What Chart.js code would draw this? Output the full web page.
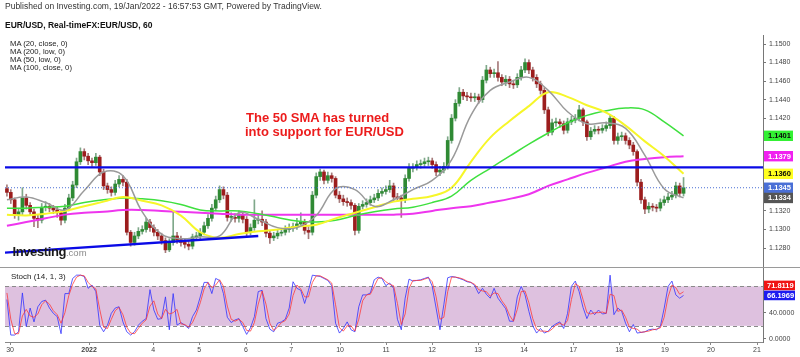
<!DOCTYPE html>
<html><head><meta charset="utf-8">
<script src="https://cdn.jsdelivr.net/npm/chart.js@4"></script>
<style>
body{margin:0;background:#fff;width:800px;height:357px;overflow:hidden;position:relative;font-family:"Liberation Sans",Arial,sans-serif;}
canvas{position:absolute;left:0;}
.t{position:absolute;white-space:nowrap;color:#333;line-height:1;z-index:5;}
</style></head><body>
<canvas id="main" width="800" height="267" style="top:0"></canvas>
<canvas id="stoch" width="800" height="90" style="top:267px"></canvas>
<div class="t" style="left:5px;top:2px;font-size:8.5px">Published on Investing.com, 19/Jan/2022 - 16:57:53 GMT, Powered by TradingView.</div>
<div class="t" style="left:5px;top:20.5px;font-size:8.5px;font-weight:bold;color:#111">EUR/USD, Real-timeFX:EUR/USD, 60</div>
<div class="t" style="left:10px;top:39.5px;font-size:7.7px;color:#222">MA (20, close, 0)</div>
<div class="t" style="left:10px;top:47.9px;font-size:7.7px;color:#222">MA (200, low, 0)</div>
<div class="t" style="left:10px;top:55.5px;font-size:7.7px;color:#222">MA (50, low, 0)</div>
<div class="t" style="left:10px;top:63.9px;font-size:7.7px;color:#222">MA (100, close, 0)</div>
<div class="t" style="left:246px;top:110.5px;font-size:13px;font-weight:bold;color:#ec1c1c">The 50 SMA has turned</div>
<div class="t" style="left:245px;top:124.5px;font-size:13px;font-weight:bold;color:#ec1c1c">into support for EUR/USD</div>
<div class="t" style="left:12.5px;top:245px;font-size:13px;font-weight:bold;color:#1a1a1a;letter-spacing:-0.4px">Investing<span style="font-size:9.5px;font-weight:normal;color:#8a8a8a;letter-spacing:0">.com</span></div>
<div class="t" style="left:11px;top:272.7px;font-size:8px;color:#222">Stoch (14, 1, 3)</div>
<script>
// ---- data (2-hour candles, EUR/USD) ----
const opens=[1.1344,1.1340,1.1332,1.1316,1.1319,1.1334,1.1326,1.1319,1.1312,1.1310,
1.1324,1.1325,1.1323,1.1321,1.1318,1.1310,1.1323,1.1334,1.1348,1.1373,
1.1384,1.1379,1.1374,1.1372,1.1378,1.1362,1.1347,1.1343,1.1340,1.1349,
1.1354,1.1351,1.1297,1.1286,1.1293,1.1298,1.1300,1.1308,1.1302,1.1297,
1.1293,1.1288,1.1278,1.1286,1.1293,1.1289,1.1286,1.1284,1.1282,1.1292,
1.1293,1.1297,1.1304,1.1312,1.1323,1.1332,1.1343,1.1337,1.1313,1.1313,
1.1312,1.1315,1.1311,1.1297,1.1302,1.1310,1.1311,1.1308,1.1296,1.1291,
1.1293,1.1296,1.1297,1.1300,1.1302,1.1303,1.1306,1.1308,1.1299,1.1297,
1.1337,1.1357,1.1362,1.1353,1.1358,1.1355,1.1337,1.1333,1.1330,1.1329,
1.1326,1.1299,1.1325,1.1327,1.1329,1.1332,1.1334,1.1339,1.1341,1.1343,
1.1347,1.1335,1.1334,1.1332,1.1355,1.1366,1.1367,1.1370,1.1371,1.1373,
1.1374,1.1370,1.1362,1.1364,1.1368,1.1396,1.1420,1.1436,1.1448,1.1444,
1.1443,1.1442,1.1443,1.1440,1.1461,1.1472,1.1468,1.1469,1.1464,1.1459,
1.1462,1.1457,1.1456,1.1464,1.1472,1.1480,1.1472,1.1464,1.1457,1.1450,
1.1429,1.1405,1.1415,1.1416,1.1414,1.1407,1.1416,1.1418,1.1420,1.1429,
1.1416,1.1400,1.1406,1.1408,1.1407,1.1409,1.1412,1.1420,1.1396,1.1400,
1.1401,1.1396,1.1391,1.1384,1.1351,1.1332,1.1322,1.1325,1.1324,1.1323,
1.1329,1.1332,1.1335,1.1337,1.1347,1.1339];
const highs=[1.1348,1.1343,1.1334,1.1323,1.1345,1.1338,1.1329,1.1322,1.1316,1.1328,
1.1330,1.1328,1.1326,1.1324,1.1320,1.1327,1.1338,1.1352,1.1377,1.1388,
1.1387,1.1382,1.1377,1.1382,1.1380,1.1365,1.1350,1.1346,1.1353,1.1358,
1.1358,1.1354,1.1299,1.1297,1.1302,1.1304,1.1312,1.1311,1.1305,1.1300,
1.1296,1.1291,1.1290,1.1320,1.1297,1.1293,1.1290,1.1288,1.1295,1.1297,
1.1301,1.1308,1.1316,1.1327,1.1336,1.1347,1.1346,1.1340,1.1318,1.1317,
1.1320,1.1318,1.1314,1.1306,1.1332,1.1316,1.1320,1.1311,1.1299,1.1297,
1.1300,1.1301,1.1304,1.1306,1.1307,1.1312,1.1318,1.1311,1.1303,1.1341,
1.1361,1.1365,1.1364,1.1362,1.1361,1.1357,1.1341,1.1337,1.1334,1.1332,
1.1328,1.1328,1.1331,1.1333,1.1336,1.1338,1.1343,1.1345,1.1347,1.1353,
1.1350,1.1339,1.1337,1.1359,1.1371,1.1371,1.1374,1.1375,1.1377,1.1378,
1.1377,1.1373,1.1368,1.1372,1.1400,1.1424,1.1440,1.1453,1.1451,1.1448,
1.1447,1.1447,1.1446,1.1465,1.1477,1.1475,1.1473,1.1481,1.1467,1.1466,
1.1465,1.1461,1.1468,1.1476,1.1484,1.1483,1.1475,1.1467,1.1460,1.1453,
1.1432,1.1419,1.1420,1.1419,1.1417,1.1420,1.1422,1.1424,1.1434,1.1431,
1.1418,1.1410,1.1412,1.1411,1.1413,1.1416,1.1424,1.1422,1.1404,1.1405,
1.1404,1.1399,1.1394,1.1386,1.1354,1.1335,1.1329,1.1328,1.1327,1.1333,
1.1336,1.1339,1.1341,1.1351,1.1350,1.1356];
const lows=[1.1336,1.1328,1.1312,1.1310,1.1316,1.1322,1.1315,1.1303,1.1302,1.1307,
1.1320,1.1319,1.1317,1.1313,1.1305,1.1307,1.1320,1.1331,1.1345,1.1370,
1.1375,1.1370,1.1368,1.1369,1.1358,1.1343,1.1339,1.1336,1.1337,1.1346,
1.1347,1.1294,1.1282,1.1283,1.1290,1.1295,1.1297,1.1298,1.1293,1.1289,
1.1284,1.1275,1.1276,1.1283,1.1285,1.1282,1.1280,1.1278,1.1279,1.1288,
1.1290,1.1294,1.1301,1.1309,1.1320,1.1329,1.1333,1.1309,1.1309,1.1308,
1.1308,1.1307,1.1293,1.1294,1.1299,1.1306,1.1304,1.1292,1.1285,1.1288,
1.1290,1.1293,1.1294,1.1297,1.1298,1.1300,1.1303,1.1295,1.1290,1.1294,
1.1334,1.1353,1.1349,1.1350,1.1351,1.1334,1.1329,1.1326,1.1325,1.1322,
1.1294,1.1296,1.1322,1.1324,1.1326,1.1329,1.1331,1.1336,1.1338,1.1340,
1.1331,1.1330,1.1313,1.1329,1.1352,1.1362,1.1364,1.1366,1.1368,1.1369,
1.1366,1.1358,1.1358,1.1361,1.1365,1.1393,1.1417,1.1433,1.1440,1.1439,
1.1438,1.1438,1.1436,1.1437,1.1458,1.1464,1.1464,1.1460,1.1455,1.1455,
1.1453,1.1452,1.1453,1.1461,1.1469,1.1468,1.1460,1.1453,1.1446,1.1425,
1.1401,1.1402,1.1411,1.1410,1.1403,1.1404,1.1413,1.1415,1.1417,1.1412,
1.1396,1.1397,1.1403,1.1403,1.1404,1.1406,1.1409,1.1392,1.1392,1.1396,
1.1392,1.1387,1.1380,1.1347,1.1328,1.1317,1.1318,1.1320,1.1319,1.1320,
1.1326,1.1329,1.1332,1.1334,1.1335,1.1336];
const closes=[1.1340,1.1332,1.1316,1.1319,1.1334,1.1326,1.1319,1.1312,1.1310,1.1324,
1.1325,1.1323,1.1321,1.1318,1.1310,1.1323,1.1334,1.1348,1.1373,1.1384,
1.1379,1.1374,1.1372,1.1378,1.1362,1.1347,1.1343,1.1340,1.1349,1.1354,
1.1351,1.1297,1.1286,1.1293,1.1298,1.1300,1.1308,1.1302,1.1297,1.1293,
1.1288,1.1278,1.1286,1.1293,1.1289,1.1286,1.1284,1.1282,1.1292,1.1293,
1.1297,1.1304,1.1312,1.1323,1.1332,1.1343,1.1337,1.1313,1.1313,1.1312,
1.1315,1.1311,1.1297,1.1302,1.1310,1.1311,1.1308,1.1296,1.1291,1.1293,
1.1296,1.1297,1.1300,1.1302,1.1303,1.1306,1.1308,1.1299,1.1297,1.1337,
1.1357,1.1362,1.1353,1.1358,1.1355,1.1337,1.1333,1.1330,1.1329,1.1326,
1.1299,1.1325,1.1327,1.1329,1.1332,1.1334,1.1339,1.1341,1.1343,1.1347,
1.1335,1.1334,1.1332,1.1355,1.1366,1.1367,1.1370,1.1371,1.1373,1.1374,
1.1370,1.1362,1.1364,1.1368,1.1396,1.1420,1.1436,1.1448,1.1444,1.1443,
1.1442,1.1443,1.1440,1.1461,1.1472,1.1468,1.1469,1.1464,1.1459,1.1462,
1.1457,1.1456,1.1464,1.1472,1.1480,1.1472,1.1464,1.1457,1.1450,1.1429,
1.1405,1.1415,1.1416,1.1414,1.1407,1.1416,1.1418,1.1420,1.1429,1.1416,
1.1400,1.1406,1.1408,1.1407,1.1409,1.1412,1.1420,1.1396,1.1400,1.1401,
1.1396,1.1391,1.1384,1.1351,1.1332,1.1322,1.1325,1.1324,1.1323,1.1329,
1.1332,1.1335,1.1337,1.1347,1.1339,1.1345];

// moving averages sampled every 10 hours
const ma20=[1.1332,1.1335,1.1329,1.1321,1.1342,1.1362,1.1358,1.1319,1.1295,1.1290,1.1292,1.1293,1.1318,1.1311,1.1302,1.1302,1.1315,1.1344,1.1343,1.1325,1.1332,1.1343,1.1353,1.1375,1.1423,1.1450,1.1459,1.1464,1.1450,1.1427,1.1414,1.1415,1.1409,1.1380,1.1344,1.1334];
const ma50=[1.1316,1.1315,1.1317,1.1320,1.1325,1.1330,1.1335,1.1331,1.1326,1.1315,1.1297,1.1291,1.1295,1.1298,1.1300,1.1303,1.1305,1.1312,1.1318,1.1324,1.1330,1.1333,1.1336,1.1345,1.1373,1.1399,1.1417,1.1433,1.1448,1.1443,1.1434,1.1426,1.1412,1.1395,1.1379,1.1360];
const ma100=[1.1323,1.1323,1.1324,1.1325,1.1329,1.1332,1.1334,1.1333,1.1331,1.1327,1.1321,1.1320,1.1320,1.1317,1.1313,1.1309,1.1308,1.1310,1.1315,1.1319,1.1322,1.1324,1.1329,1.1336,1.1353,1.1366,1.1379,1.1392,1.1404,1.1415,1.1423,1.1428,1.1431,1.1429,1.1416,1.1401];
const ma200=[1.1304,1.1308,1.1312,1.1316,1.1318,1.1319,1.1321,1.1321,1.1320,1.1319,1.1318,1.1317,1.1316,1.1316,1.1316,1.1316,1.1316,1.1316,1.1316,1.1316,1.1316,1.1317,1.1320,1.1323,1.1325,1.1329,1.1333,1.1338,1.1347,1.1354,1.1361,1.1367,1.1373,1.1376,1.1378,1.1379];

// stochastic (14,1,3)
const stochK=[60,6,6,11,70,19,47,26,49,57,
59,47,39,34,8,69,69,92,97,97,
95,77,82,72,21,11,21,39,47,49,
26,11,6,11,21,27,31,75,44,30,
31,64,14,69,21,25,21,16,34,44,
64,86,86,69,92,89,69,33,25,29,
31,19,7,17,34,72,74,31,15,11,
24,26,30,47,87,77,74,54,74,97,
96,95,92,89,81,24,9,16,26,14,
11,49,67,67,70,90,94,92,81,85,
77,30,14,62,91,88,89,90,92,94,
80,47,14,52,93,95,94,92,90,87,
86,81,69,77,68,62,77,62,54,46,
27,27,64,80,67,42,20,9,16,9,
12,19,23,26,16,39,80,88,72,48,
31,44,37,44,38,39,97,37,47,42,
24,11,22,9,10,11,14,15,14,19,
47,80,88,67,62,66.1969];
const stochD=[70,30,8,8,35,45,35,33,38,52,
58,53,43,37,24,40,66,83,94,97,
96,86,80,76,45,18,16,30,43,48,
37,18,9,8,16,24,29,50,58,38,
31,45,38,40,45,23,22,18,25,38,
55,76,86,78,82,90,80,50,30,27,
30,25,13,12,25,53,73,53,24,13,
18,25,28,38,66,82,76,64,64,86,
96,96,93,90,85,52,17,12,20,20,
12,30,58,67,68,80,92,93,87,83,
81,54,22,38,77,89,89,89,91,93,
87,64,30,33,72,94,94,93,91,88,
86,83,75,73,72,65,70,69,58,50,
36,27,45,72,73,55,31,15,12,12,
11,15,21,24,21,28,60,84,80,60,
40,38,40,40,41,39,68,66,42,44,
33,18,16,15,10,11,12,14,15,17,
33,64,82,78,68,71.8119];

// levels and axes
const resistance=1.1367;
const trendFrom=[0,1.1275];
const trendTo=[131,1.1293];
const priceTicks=[1.1280,1.1300,1.1320,1.1340,1.1360,1.1380,1.1400,1.1420,1.1440,1.1460,1.1480,1.1500];
const stochTicks=[0,40];
const stochLevels=[20,80];
const dayLabels=['30','2022','4','5','6','7','10','11','12','13','14','17','18','19','20','21'];
const dayHours=[2.6,43.5,76.6,100.4,124.7,148,173.3,197.1,220.9,244.7,268.5,294,317.7,341.4,365.2,389];

// ---- chart setup ----
Chart.defaults.font.family='"Liberation Sans", Arial, sans-serif';
const X_MAX=392.1;
const candleHour=closes.map((_,i)=>i*2+1);
const maHour=ma20.map((_,k)=>k*10+1);
const P_MAX=1.150971, P_MIN=1.126060;
const S_MAX=109.4, S_MIN=-4.56;
const lastClose=closes[closes.length-1];
const bodyColors=closes.map((c,i)=>c>=opens[i]?'#2f8a34':'#9c1d1d');
const wickColors=closes.map((c,i)=>c>=opens[i]?'#7fa88a':'#a57a7a');
const ser=(arr,xs)=>arr.map((v,i)=>({x:xs[i],y:v}));
const maLine=(label,arr,color,w)=>({type:'line',label,data:ser(arr,maHour),borderColor:color,borderWidth:w,pointRadius:0,tension:0.4,order:4});

const priceTagPlugin={id:'priceTags',afterDraw(chart){
  const ctx=chart.ctx, ys=chart.scales.y, x0=chart.chartArea.right+1;
  const tags=[
    {v:ma100[ma100.length-1],bg:'#33f033',fg:'#0a0a0a'},
    {v:ma200[ma200.length-1],bg:'#f020f0',fg:'#ffffff'},
    {v:ma50[ma50.length-1],bg:'#ffff20',fg:'#0a0a0a'},
    {v:lastClose,bg:'#4a6fd6',fg:'#ffffff'},
    {v:ma20[ma20.length-1],bg:'#555555',fg:'#ffffff'}];
  ctx.save();
  ctx.font='bold 7.5px "Liberation Sans", Arial';
  ctx.textBaseline='middle';
  tags.forEach(t=>{const py=ys.getPixelForValue(t.v);
    ctx.fillStyle=t.bg; ctx.fillRect(x0,py-5.2,29,10.4);
    ctx.fillStyle=t.fg; ctx.fillText(t.v.toFixed(4),x0+4,py+0.5);});
  ctx.restore();
}};

new Chart(document.getElementById('main'),{
  type:'bar',
  data:{datasets:[
    {type:'line',label:'Resistance',data:[{x:0,y:resistance},{x:X_MAX,y:resistance}],borderColor:'#0a0ae6',borderWidth:2.4,pointRadius:0,order:1},
    {type:'line',label:'Trendline',data:[{x:trendFrom[0],y:trendFrom[1]},{x:trendTo[0],y:trendTo[1]}],borderColor:'#0a0ae6',borderWidth:2.4,pointRadius:0,order:1},
    {type:'line',label:'Last',data:[{x:0,y:lastClose},{x:X_MAX,y:lastClose}],borderColor:'#4a6fd6',borderWidth:1,borderDash:[1,2],pointRadius:0,order:2},
    maLine('MA20',ma20,'#9a9a9a',1.5),
    maLine('MA50',ma50,'#f6f629',2),
    maLine('MA100',ma100,'#3fe03f',1.5),
    maLine('MA200',ma200,'#ee35ee',2),
    {label:'Wicks',data:highs.map((h,i)=>({x:candleHour[i],y:[lows[i],h]})),backgroundColor:wickColors,barThickness:1,grouped:false,order:9},
    {label:'Bodies',data:opens.map((o,i)=>({x:candleHour[i],y:[o,closes[i]]})),backgroundColor:bodyColors,barThickness:3,minBarLength:1,grouped:false,order:8}
  ]},
  options:{
    responsive:false,animation:false,devicePixelRatio:1,
    layout:{padding:{left:5,top:35,right:0,bottom:1}},
    plugins:{legend:{display:false},tooltip:{enabled:false}},
    scales:{
      x:{type:'linear',min:0,max:X_MAX,offset:false,display:false},
      y:{position:'right',min:P_MIN,max:P_MAX,
        afterFit(s){s.width=37;s.paddingTop=0;s.paddingBottom=0;},
        afterBuildTicks(s){s.ticks=priceTicks.map(v=>({value:v}));},
        ticks:{font:{size:7},color:'#444',padding:3,callback:v=>Number(v).toFixed(4)},
        grid:{drawOnChartArea:false,tickLength:3,color:'#777'},
        border:{color:'#777'}}
    }
  },
  plugins:[priceTagPlugin]
});

const stochPlugin={id:'stochDeco',
  beforeDatasetsDraw(chart){
    const ctx=chart.ctx, a=chart.chartArea, ys=chart.scales.y;
    const yHi=ys.getPixelForValue(stochLevels[1]), yLo=ys.getPixelForValue(stochLevels[0]);
    ctx.save();
    ctx.fillStyle='#dec1df';
    ctx.fillRect(a.left,yHi,a.right-a.left,yLo-yHi);
    ctx.strokeStyle='#8a8a8a';ctx.lineWidth=1;ctx.setLineDash([4,3]);
    [yHi,yLo].forEach(y=>{ctx.beginPath();ctx.moveTo(a.left,Math.round(y)+0.5);ctx.lineTo(a.right,Math.round(y)+0.5);ctx.stroke();});
    ctx.restore();
  },
  afterDraw(chart){
    const ctx=chart.ctx, ys=chart.scales.y, x0=chart.chartArea.right+1;
    ctx.save();
    ctx.strokeStyle='#9a9a9a';ctx.lineWidth=1;
    ctx.beginPath();ctx.moveTo(0,0.5);ctx.lineTo(800,0.5);ctx.stroke();
    const dV=stochD[stochD.length-1], kV=stochK[stochK.length-1];
    let yD=ys.getPixelForValue(dV), yK=ys.getPixelForValue(kV);
    if(Math.abs(yD-yK)<10){ if(yD<=yK) yD=yK-10; else yK=yD-10; }
    ctx.font='bold 7.5px "Liberation Sans", Arial';ctx.textBaseline='middle';
    [[dV,yD,'#f01414'],[kV,yK,'#1c1cf0']].forEach(([v,y,c])=>{
      ctx.fillStyle=c;ctx.fillRect(x0,y-4.8,31,9.6);
      ctx.fillStyle='#fff';ctx.fillText(v.toFixed(4),x0+3,y+0.5);});
    ctx.restore();
  }
};

new Chart(document.getElementById('stoch'),{
  type:'line',
  data:{datasets:[
    {label:'%K',data:ser(stochK,candleHour),borderColor:'rgba(50,50,255,0.8)',borderWidth:1,pointRadius:0,order:2},
    {label:'%D',data:ser(stochD,candleHour),borderColor:'rgba(255,50,50,0.75)',borderWidth:1,pointRadius:0,order:1}
  ]},
  options:{
    responsive:false,animation:false,devicePixelRatio:1,
    layout:{padding:{left:5,top:0,right:0,bottom:0}},
    plugins:{legend:{display:false},tooltip:{enabled:false}},
    scales:{
      x:{type:'linear',min:0,max:X_MAX,offset:false,
        afterFit(s){s.height=15;s.paddingLeft=0;s.paddingRight=0;},
        afterBuildTicks(s){s.ticks=dayHours.map(v=>({value:v}));},
        ticks:{autoSkip:false,maxRotation:0,padding:1,color:'#444',
          font:(c)=>({size:7,weight:(dayLabels[c.index]==='2022')?'bold':'normal'}),
          callback:(v,i)=>dayLabels[i]},
        grid:{drawOnChartArea:false,tickLength:3,color:'#888'},
        border:{color:'#888'}},
      y:{position:'right',min:S_MIN,max:S_MAX,
        afterFit(s){s.width=37;s.paddingTop=0;s.paddingBottom=0;},
        afterBuildTicks(s){s.ticks=stochTicks.map(v=>({value:v}));},
        ticks:{font:{size:7},color:'#444',padding:3,callback:v=>Number(v).toFixed(4)},
        grid:{drawOnChartArea:false,tickLength:3,color:'#777'},
        border:{color:'#777'}}
    }
  },
  plugins:[stochPlugin]
});
</script>
</body></html>
